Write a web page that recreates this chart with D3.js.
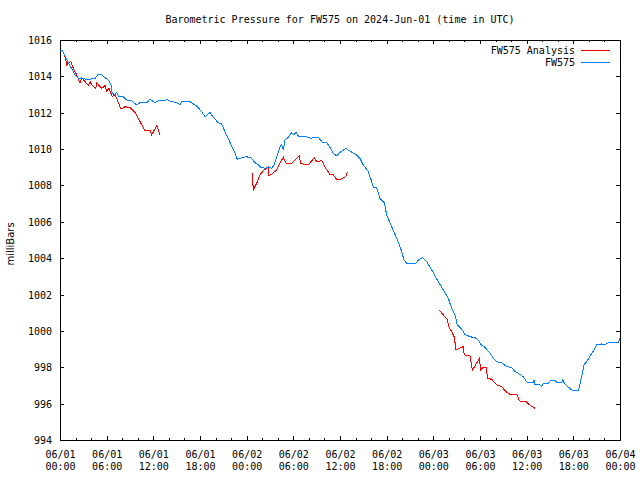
<!DOCTYPE html>
<html>
<head>
<meta charset="utf-8">
<script src="https://cdn.jsdelivr.net/npm/d3@7"></script>
<style>
  html, body { margin: 0; padding: 0; background: #fff; }
  svg { display: block; }
  text { font-family: "DejaVu Sans Mono", monospace; font-size: 10px; fill: #000; }
</style>
</head>
<body>
<svg id="chart" width="640" height="480"></svg>
<script>
// ---- data (hours since 2024-06-01 00:00 UTC, pressure in mbar) ----
const stationHours = [0,0.22,0.64,1.07,1.5,1.93,2.35,3.21,3.64,4.08,4.5,4.85,5.36,5.79,6.21,6.56,6.72,7.07,7.29,7.5,8.14,8.58,9.22,9.86,10.29,11.15,11.57,12.21,12.64,13.5,13.72,14.14,15.21,15.43,15.65,16.71,17.58,18.22,18.64,19.29,19.71,20.35,20.79,21.21,21.64,22.08,22.5,22.8,23.36,24.0,24.65,25.07,25.5,25.84,26.36,26.78,27.22,27.51,27.94,28.29,28.5,28.71,28.93,29.35,29.79,30.09,30.34,30.64,31.63,32.27,32.79,33.21,33.78,34.29,34.71,35.14,35.58,35.91,36.77,37.5,38.14,38.57,38.99,39.64,40.08,40.29,40.69,41.14,41.7,42.0,42.65,43.29,43.8,44.23,44.58,45.77,46.07,46.63,47.15,47.79,48.43,48.64,49.28,49.92,50.36,50.79,51.08,51.65,52.07,52.71,53.36,53.78,54.09,54.64,55.29,55.71,56.15,56.79,57.43,58.08,58.37,58.92,59.57,60.08,60.85,60.94,61.07,61.71,61.93,62.14,62.78,63.09,63.64,63.86,64.5,64.63,64.93,65.57,65.92,66.64,67.07,67.37,67.72,68.14,68.66,69.0,69.43,69.64,70.07,70.5,71.14,71.78,72.0];
const stationPressure = [1015.45,1015.45,1015.14,1014.72,1014.44,1014.08,1013.89,1013.86,1013.8,1013.86,1013.89,1014.08,1014.08,1013.93,1013.8,1013.53,1013.07,1013.01,1013.12,1012.92,1012.88,1012.7,1012.65,1012.43,1012.55,1012.55,1012.74,1012.55,1012.65,1012.65,1012.74,1012.65,1012.52,1012.43,1012.61,1012.61,1012.37,1012.06,1011.78,1012.01,1011.75,1011.45,1011.38,1010.96,1010.59,1010.13,1009.77,1009.44,1009.53,1009.58,1009.49,1009.25,1009.13,1009.0,1008.94,1009.0,1008.94,1009.13,1009.68,1010.13,1010.23,1009.95,1010.5,1010.65,1010.9,1010.78,1010.92,1010.72,1010.68,1010.59,1010.65,1010.65,1010.35,1010.35,1010.09,1009.77,1009.62,1009.8,1010.03,1009.83,1009.67,1009.49,1009.13,1008.76,1008.21,1007.89,1007.9,1007.29,1007.05,1006.38,1005.73,1005.09,1004.54,1003.9,1003.72,1003.72,1003.9,1004.03,1003.81,1003.35,1002.86,1002.71,1002.25,1001.79,1001.24,1000.88,1000.33,1000.09,999.81,999.68,999.63,999.5,999.26,999.1,998.77,998.49,998.31,998.25,998.03,998.0,997.81,997.67,997.48,997.15,997.15,997.3,997.06,997.03,996.93,997.12,997.12,997.3,997.3,997.15,997.15,997.3,997.06,996.84,996.7,996.7,997.48,998.13,998.31,998.62,998.95,999.23,999.23,999.28,999.23,999.35,999.37,999.35,999.59];

// analysis series: null marks a gap between runs
const analysisHours = [0.55,0.73,0.86,1.07,1.41,1.71,2.15,2.57,2.79,3.21,3.64,3.86,4.08,4.59,4.72,5.36,5.79,6.0,6.3,6.72,6.98,7.29,7.84,8.36,9.0,9.64,10.29,10.93,11.57,11.79,12.43,12.86,
  null,
  24.72,24.85,25.29,25.71,26.14,26.78,26.79,27.22,27.86,28.29,28.71,29.06,29.79,30.43,30.77,30.95,31.5,31.92,32.7,33.0,33.65,34.07,34.71,35.14,35.65,36.22,36.73,36.94,
  null,
  48.77,49.28,49.85,49.93,50.36,50.7,50.91,51.34,51.85,51.98,52.71,53.01,53.45,53.91,54.09,54.42,54.77,54.99,55.5,56.15,56.79,57.34,57.95,58.72,59.06,59.91,60.56,61.07];
const analysisPressure = [1015.14,1014.99,1014.63,1014.72,1014.81,1014.44,1014.08,1013.62,1013.93,1013.71,1013.49,1013.71,1013.53,1013.34,1013.65,1013.34,1013.49,1013.2,1013.34,1012.88,1013.01,1012.79,1012.2,1012.33,1012.28,1012.02,1011.51,1011.0,1011.05,1010.78,1011.29,1010.78,
  null,
  1008.7,1007.75,1008.12,1008.58,1008.81,1009.0,1008.52,1008.63,1008.85,1009.25,1009.55,1009.22,1009.22,1009.49,1009.62,1009.22,1009.13,1009.13,1009.53,1009.31,1009.36,1009.0,1008.61,1008.58,1008.3,1008.37,1008.48,1008.72,
  null,
  1001.15,1000.88,1000.6,1000.27,999.96,999.65,998.95,999.04,999.13,998.68,998.62,997.85,998.13,998.49,997.85,998.0,998.0,997.39,997.34,997.03,996.93,996.66,996.48,996.53,996.15,996.11,995.87,995.74];

const yTicks = [994,996,998,1000,1002,1004,1006,1008,1010,1012,1014,1016];
const seriesNames = ["FW575 Analysis", "FW575"];
const seriesColors = ["#ff0000", "#0080ff"];
const titleText = "Barometric Pressure for FW575 on 2024-Jun-01 (time in UTC)";
const yLabel = "milliBars";

// ---- chart ----
const start = Date.UTC(2024, 5, 1, 0, 0);
const toDate = h => new Date(start + h * 3600e3);
const svg = d3.select("#chart");
const L = 60, R = 620, T = 40, B = 440;

const x = d3.scaleUtc().domain([toDate(0), toDate(72)]).range([L, R]);
const y = d3.scaleLinear().domain([994, 1016]).range([B, T]);

const majorTicks = d3.range(0, 73, 6).map(toDate);
const minorTicks = d3.range(0, 73, 2).filter(h => h % 6 !== 0).map(toDate);

const fmtDate = d3.utcFormat("%m/%d"), fmtTime = d3.utcFormat("%H:%M");

// bottom axis with major ticks and two-line labels
const gB = svg.append("g").attr("transform", `translate(0,${B})`)
  .call(d3.axisBottom(x).tickValues(majorTicks).tickSize(-4).tickPadding(0).tickFormat(""));
gB.selectAll(".tick text").remove();
gB.selectAll(".tick").append("text")
  .attr("text-anchor", "middle")
  .each(function(d) {
    const t = d3.select(this);
    t.append("tspan").attr("x", 0).attr("y", 18).text(fmtDate(d));
    t.append("tspan").attr("x", 0).attr("y", 30).text(fmtTime(d));
  });
svg.append("g").attr("transform", `translate(0,${B})`)
  .call(d3.axisBottom(x).tickValues(minorTicks).tickSize(-2).tickFormat(""));
// top mirror
svg.append("g").attr("transform", `translate(0,${T})`)
  .call(d3.axisTop(x).tickValues(majorTicks).tickSize(-4).tickFormat(""));
svg.append("g").attr("transform", `translate(0,${T})`)
  .call(d3.axisTop(x).tickValues(minorTicks).tickSize(-2).tickFormat(""));

// left axis
const gL = svg.append("g").attr("transform", `translate(${L},0)`)
  .call(d3.axisLeft(y).tickValues(yTicks).tickSize(-4).tickPadding(8).tickFormat(d3.format("d")));
gL.selectAll(".tick text").attr("x", -8).attr("dy", "0.35em").style("font-family", "DejaVu Sans Mono").style("font-size", "10px");
// right mirror
svg.append("g").attr("transform", `translate(${R},0)`)
  .call(d3.axisRight(y).tickValues(yTicks).tickSize(-4).tickFormat(""));

svg.selectAll(".domain").remove();
svg.selectAll(".tick line").attr("stroke", "#000").attr("shape-rendering", "crispEdges");
svg.selectAll(".tick text").attr("fill", "#000").style("font-family", "DejaVu Sans Mono").style("font-size", "10px");

// frame
svg.append("rect").attr("x", L).attr("y", T).attr("width", R - L).attr("height", B - T)
  .attr("fill", "none").attr("stroke", "#000").attr("shape-rendering", "crispEdges");

// lines
const line = d3.line()
  .defined((d) => d[1] !== null)
  .x(d => x(toDate(d[0])))
  .y(d => y(d[1]));

const analysisData = analysisHours.map((h, i) => [h, analysisPressure[i]]);
const stationData = stationHours.map((h, i) => [h, stationPressure[i]]);

svg.append("path").datum(analysisData).attr("d", line)
  .attr("fill", "none").attr("stroke", seriesColors[0]).attr("stroke-width", 1)
  .attr("shape-rendering", "crispEdges");
svg.append("path").datum(stationData).attr("d", line)
  .attr("fill", "none").attr("stroke", seriesColors[1]).attr("stroke-width", 1)
  .attr("shape-rendering", "crispEdges");

// legend
seriesNames.forEach((name, i) => {
  const ly = 50 + i * 12.5;
  svg.append("text").attr("x", 575).attr("y", ly).attr("dy", "0.35em")
    .attr("text-anchor", "end").text(name);
  svg.append("line").attr("x1", 581).attr("x2", 610).attr("y1", ly).attr("y2", ly)
    .attr("stroke", seriesColors[i]).attr("stroke-width", 1).attr("shape-rendering", "crispEdges");
});

// title
svg.append("text").attr("x", 340).attr("y", 23).attr("text-anchor", "middle").text(titleText);

// y label
svg.append("text").attr("transform", "translate(14,244) rotate(-90)")
  .attr("text-anchor", "middle")
  .style("font-family", "DejaVu Sans").style("font-size", "10px")
  .text(yLabel);
</script>
</body>
</html>
